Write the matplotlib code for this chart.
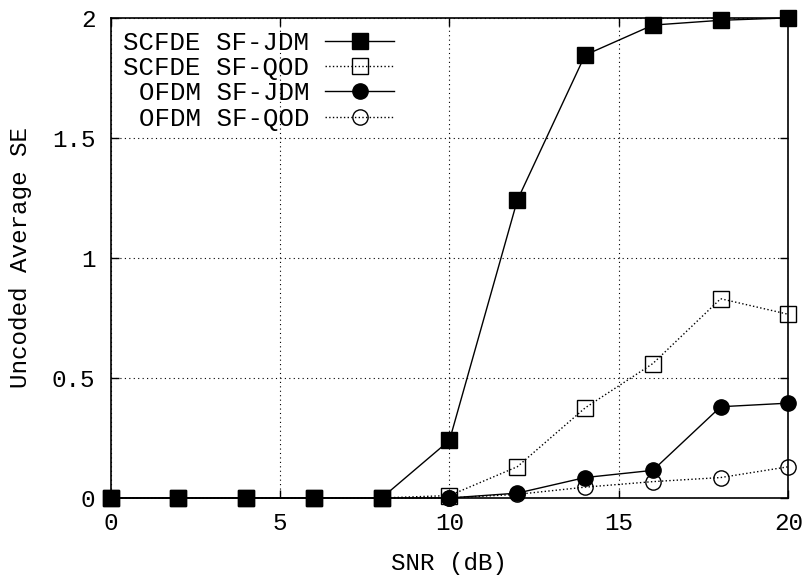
import matplotlib
matplotlib.use('Agg')
import matplotlib.pyplot as plt

snr = [0, 2, 4, 6, 8, 10, 12, 14, 16, 18, 20]
scfde_jdm = [0, 0, 0, 0, 0, 0.24, 1.24, 1.845, 1.97, 1.99, 2.0]
scfde_qod = [0, 0, 0, 0, 0, 0.01, 0.13, 0.375, 0.56, 0.83, 0.765]
ofdm_jdm = [0, 0, 0, 0, 0, 0, 0.02, 0.085, 0.115, 0.38, 0.395]
ofdm_qod = [0, 0, 0, 0, 0, 0, 0.015, 0.045, 0.068, 0.085, 0.13]

xticks = [0, 5, 10, 15, 20]
yticks = [0, 0.5, 1, 1.5, 2]
ytick_labels = ['0', '0.5', '1', '1.5', '2']

plt.rcParams['font.family'] = ['Liberation Mono', 'DejaVu Sans Mono']
plt.rcParams['font.size'] = 17.5

fig = plt.figure(figsize=(8.07, 5.77), dpi=100)
ax = fig.add_axes([0.137, 0.137, 0.840, 0.832])

ms = 11
ax.plot(snr, scfde_jdm, '-', color='black', lw=1, marker='s', ms=ms,
        mfc='black', mec='black', label='SCFDE SF-JDM', clip_on=False, zorder=3)
ax.plot(snr, scfde_qod, ':', color='black', lw=1, marker='s', ms=ms,
        mfc='none', mec='black', label='SCFDE SF-QOD', clip_on=False, zorder=3)
ax.plot(snr, ofdm_jdm, '-', color='black', lw=1, marker='o', ms=ms,
        mfc='black', mec='black', label='OFDM SF-JDM', clip_on=False, zorder=3)
ax.plot(snr, ofdm_qod, ':', color='black', lw=1, marker='o', ms=ms,
        mfc='none', mec='black', label='OFDM SF-QOD', clip_on=False, zorder=3)

ax.set_xlim(0, 20)
ax.set_ylim(0, 2)
ax.set_xticks(xticks)
ax.set_yticks(yticks)
ax.set_yticklabels(ytick_labels)
ax.tick_params(direction='in', top=True, right=True, length=6, width=1)
ax.tick_params(axis='x', pad=10)
ax.tick_params(axis='y', pad=11)
ax.grid(True, linestyle=(0, (1, 3)), color='black', lw=0.8)
for s in ax.spines.values():
    s.set_linewidth(1.2)

ax.set_xlabel('SNR (dB)', labelpad=12)
ax.set_ylabel('Uncoded Average SE', labelpad=14)

leg = ax.legend(loc='upper left', frameon=False, markerfirst=False,
                fontsize=18.5, handlelength=2.7, handletextpad=0.6,
                labelspacing=0.05, borderaxespad=0.1, alignment='right')
for t in leg.get_texts():
    t.set_ha('right')
leg.set_zorder(5)

fig.savefig('out.png', dpi=100)
